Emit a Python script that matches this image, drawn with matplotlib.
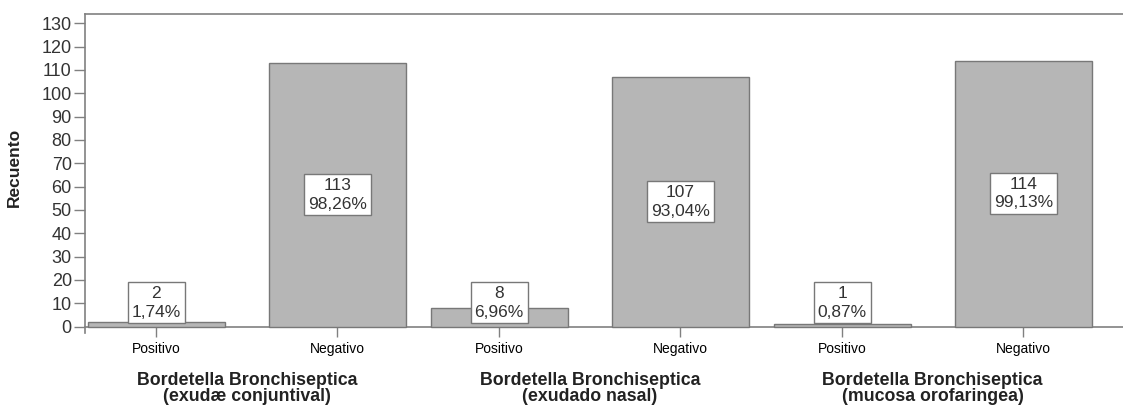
import numpy as np
import matplotlib
matplotlib.use('Agg')
from matplotlib import pyplot as plt
from matplotlib import transforms

plt.rcParams['font.family'] = ['Liberation Sans', 'DejaVu Sans']

# data
groups = ['Bordetella Bronchiseptica\n(exudæ conjuntival)',
          'Bordetella Bronchiseptica\n(exudado nasal)',
          'Bordetella Bronchiseptica\n(mucosa orofaringea)']
categories = ['Positivo', 'Negativo']
positivo = [2, 8, 1]
negativo = [113, 107, 114]
pct_positivo = ['1,74%', '6,96%', '0,87%']
pct_negativo = ['98,26%', '93,04%', '99,13%']
yticks = list(range(0, 131, 10))

fig = plt.figure(figsize=(11.23, 4.12), dpi=100)
ax = fig.add_axes([0.0757, 0.192, 0.9243, 0.774])

gx = np.arange(len(groups))
off = 0.264
w = 0.40
bar_kw = dict(width=w, color='#b6b6b6', edgecolor='#787878', linewidth=1.0, zorder=2)
ax.bar(gx - off, positivo, **bar_kw)
ax.bar(gx + off, negativo, **bar_kw)

box = dict(boxstyle='square,pad=0.22', facecolor='white', edgecolor='#787878', linewidth=1.0)
for i in range(len(groups)):
    for x, v, p in ((gx[i] - off, positivo[i], pct_positivo[i]),
                    (gx[i] + off, negativo[i], pct_negativo[i])):
        ax.text(x, max(v / 2, 10.2), f'{v}\n{p}', ha='center', va='center',
                fontsize=12.5, color='#333333', bbox=box, zorder=3, linespacing=1.3)

ax.set_xlim(-0.472, 2.555)
ax.set_ylim(-2.7, 134)
ax.set_yticks(yticks)
ax.set_xticks(np.concatenate([gx - off, gx + off]))
ax.set_xticklabels([categories[0]] * 3 + [categories[1]] * 3, fontsize=11.5, color='#222222')
ax.tick_params(axis='y', labelsize=13, length=8, width=1.0, color='#808080', pad=1.5, labelcolor='#333333')
ax.tick_params(axis='x', length=7, width=1.0, color='#808080', pad=4)

for s in ('top', 'left', 'bottom'):
    ax.spines[s].set_color('#808080')
    ax.spines[s].set_linewidth(1.2)
ax.spines['right'].set_visible(False)
ax.spines['bottom'].set_position(('data', 0))
ax.spines['bottom'].set_zorder(1)

ax.set_ylabel('Recuento', fontsize=12.5, fontweight='bold', color='#222222')
ax.yaxis.set_label_coords(-0.061, 0.52)

tr = transforms.blended_transform_factory(ax.transData, ax.transAxes)
for i, g in enumerate(groups):
    ax.annotate(g, xy=(gx[i], 0), xycoords=tr, xytext=(0, -40), textcoords='offset points',
                ha='center', va='center', fontsize=12.8, fontweight='bold', color='#222222',
                linespacing=0.95)

plt.savefig('out.png', dpi=100)
